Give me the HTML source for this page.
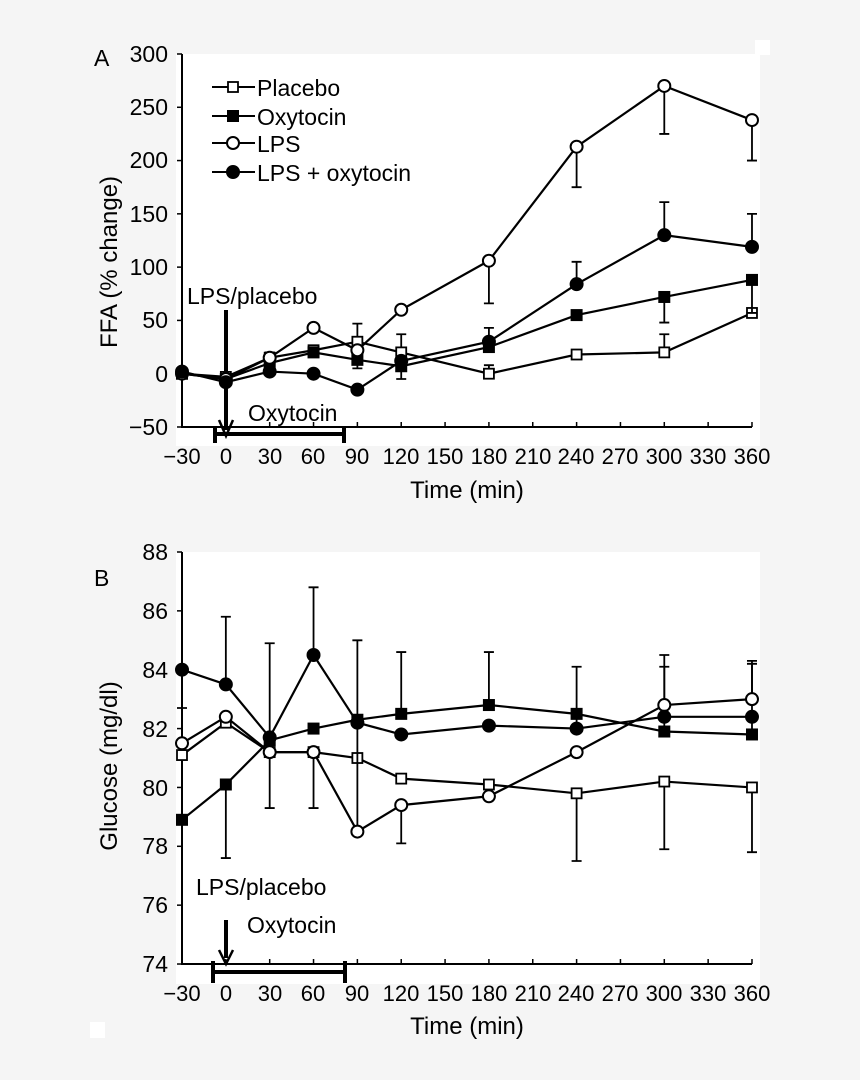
<!DOCTYPE html><html><head><meta charset="utf-8"><style>
body{margin:0;background:#f5f5f5;width:860px;height:1080px;overflow:hidden}
svg{display:block;font-family:"Liberation Sans",sans-serif}
</style></head><body>
<svg id="s" width="860" height="1080" viewBox="0 0 860 1080">
<rect x="176" y="54" width="584" height="392" fill="#fff"/>
<rect x="755" y="40" width="15" height="15" fill="#fff"/>
<rect x="176" y="552" width="584" height="432" fill="#fff"/>
<rect x="90" y="1022" width="15" height="16" fill="#fff"/>
<g font-size="23" fill="#000">
<text x="94" y="66">A</text><text x="94" y="586">B</text>
<g text-anchor="end">
<text x="168" y="62">300</text><text x="168" y="115">250</text><text x="168" y="168">200</text><text x="168" y="222">150</text><text x="168" y="275">100</text><text x="168" y="328">50</text><text x="168" y="382">0</text><text x="168" y="435">−50</text>
<text x="168" y="560">88</text><text x="168" y="619">86</text><text x="168" y="678">84</text><text x="168" y="737">82</text><text x="168" y="796">80</text><text x="168" y="854">78</text><text x="168" y="913">76</text><text x="168" y="972">74</text>
</g>
<g text-anchor="middle" font-size="22">
<text x="182" y="464">−30</text><text x="226" y="464">0</text><text x="270" y="464">30</text><text x="313" y="464">60</text><text x="357" y="464">90</text><text x="401" y="464">120</text><text x="445" y="464">150</text><text x="489" y="464">180</text><text x="533" y="464">210</text><text x="576" y="464">240</text><text x="620" y="464">270</text><text x="664" y="464">300</text><text x="708" y="464">330</text><text x="752" y="464">360</text>
<text x="182" y="1001">−30</text><text x="226" y="1001">0</text><text x="270" y="1001">30</text><text x="313" y="1001">60</text><text x="357" y="1001">90</text><text x="401" y="1001">120</text><text x="445" y="1001">150</text><text x="489" y="1001">180</text><text x="533" y="1001">210</text><text x="576" y="1001">240</text><text x="620" y="1001">270</text><text x="664" y="1001">300</text><text x="708" y="1001">330</text><text x="752" y="1001">360</text>
</g>
<g text-anchor="middle" font-size="24">
<text x="467" y="498">Time (min)</text><text x="467" y="1034">Time (min)</text>
<text transform="translate(117,262) rotate(-90)">FFA (% change)</text>
<text transform="translate(117,766) rotate(-90)">Glucose (mg/dl)</text>
</g>
<g font-size="23">
<text x="257" y="96">Placebo</text><text x="257" y="125">Oxytocin</text><text x="257" y="152">LPS</text><text x="257" y="181">LPS + oxytocin</text>
<text x="187" y="304">LPS/placebo</text><text x="248" y="421">Oxytocin</text>
<text x="196" y="895">LPS/placebo</text><text x="247" y="933">Oxytocin</text>
</g>
</g>
<g id="g" stroke="#000" fill="none"></g>
</svg>
<script>
var g=document.getElementById('g'),NS='http://www.w3.org/2000/svg';
function el(t,a){var e=document.createElementNS(NS,t);for(var k in a)e.setAttribute(k,a[k]);g.appendChild(e);return e}
var T=[-30,0,30,60,90,120,180,240,300,360];
function X(t){return 182+(t+30)*1.4615}
function YA(v){return 373.7-v*1.0657}
function YB(v){return 552+(88-v)*29.43}
el('path',{d:'M182 54V427H752','stroke-width':2});
el('path',{d:'M182 552V964H752','stroke-width':2});
for(var t=-30;t<=360;t+=30){el('path',{d:'M'+X(t)+' 427v-5','stroke-width':1.5});el('path',{d:'M'+X(t)+' 964v-5','stroke-width':1.5});}
for(var v=-50;v<=300;v+=50)el('path',{d:'M177 '+YA(v)+'h5','stroke-width':1.5});
for(var v=74;v<=88;v+=2)el('path',{d:'M177 '+YB(v)+'h5','stroke-width':1.5});
el('path',{d:'M215 434H344M215 426v17M344 426v17','stroke-width':4});
el('path',{d:'M226 310V430','stroke-width':4});el('path',{d:'M219 420L226 436L233 420','stroke-width':2.5});
el('path',{d:'M213 972H345M213 961v22M345 961v22','stroke-width':4});
el('path',{d:'M226 920V958','stroke-width':4});el('path',{d:'M219 950L226 964L233 950','stroke-width':2.5});
function mk(type,x,y){
 if(type==0)el('rect',{x:x-5,y:y-5,width:10,height:10,fill:'#fff','stroke-width':1.8});
 if(type==1)el('rect',{x:x-5.5,y:y-5.5,width:11,height:11,fill:'#000'});
 if(type==2)el('circle',{cx:x,cy:y,r:6,fill:'#fff','stroke-width':2});
 if(type==3)el('circle',{cx:x,cy:y,r:6.5,fill:'#000'});
}
function series(Y,type,d,err){
 for(var k in err){var i=+k,y0=Y(d[i]),y1=Y(err[k]),x=X(T[i]);el('path',{d:'M'+x+' '+y0+'V'+y1+'M'+(x-5)+' '+y1+'h10','stroke-width':1.8});}
 el('path',{d:'M'+T.map(function(t,i){return X(t)+' '+Y(d[i])}).join('L'),'stroke-width':2.2});
 T.forEach(function(t,i){mk(type,X(t),Y(d[i]))});
}
series(YA,0,[0,-3,15,22,30,20,0,18,20,57],{4:47,5:37,8:37,6:8});
series(YA,1,[0,-5,10,20,13,7,25,55,72,88],{8:48,6:43,2:20,9:57});
series(YA,2,[0,-5,15,43,22,60,106,213,270,238],{6:66,7:175,8:225,9:200,4:5});
series(YA,3,[2,-8,2,0,-15,12,30,84,130,119],{7:105,8:161,9:150,5:-5});
series(YB,0,[81.1,82.2,81.2,81.2,81.0,80.3,80.1,79.8,80.2,80.0],{7:77.5,8:77.9,9:77.8,0:82.7});
series(YB,1,[78.9,80.1,81.6,82.0,82.3,82.5,82.8,82.5,81.9,81.8],{1:77.6,5:84.6,6:84.6,8:84.1,9:84.2,2:79.3});
series(YB,2,[81.5,82.4,81.2,81.2,78.5,79.4,79.7,81.2,82.8,83.0],{4:85.0,8:84.5,9:84.3,5:78.1,3:79.3});
series(YB,3,[84.0,83.5,81.7,84.5,82.2,81.8,82.1,82.0,82.4,82.4],{1:85.8,3:86.8,2:84.9,7:84.1});
var ly=[87,116,143,172];
for(var i=0;i<4;i++){el('path',{d:'M212 '+ly[i]+'H255','stroke-width':2});mk(i,233,ly[i]);}
</script>
</body></html>
